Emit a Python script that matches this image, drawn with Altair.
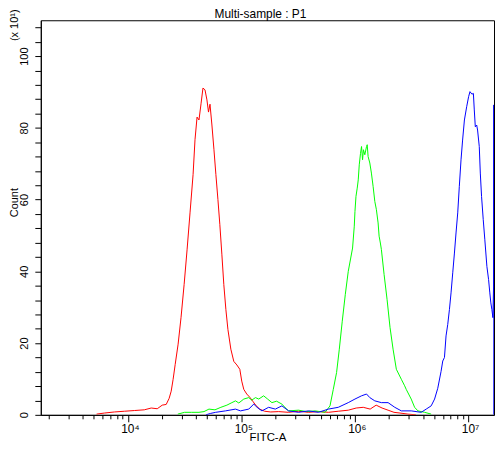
import altair as alt
import pandas as pd

# FITC-A intensity stored as log10 exponents; counts in units of 10^1
red_log = [3.724, 3.794, 3.882, 3.969, 4.057, 4.145, 4.206, 4.259, 4.303, 4.338,
           4.364, 4.382, 4.399, 4.417, 4.443, 4.469, 4.496, 4.522, 4.548, 4.575,
           4.592, 4.610, 4.627, 4.645, 4.662, 4.680, 4.697, 4.711, 4.724, 4.741,
           4.759, 4.776, 4.794, 4.811, 4.829, 4.846, 4.864, 4.882, 4.908, 4.934,
           4.961, 4.987, 5.004, 5.022, 5.048, 5.075, 5.101, 5.127, 5.162, 5.206,
           5.259, 5.329, 5.417, 5.504, 5.592, 5.680, 5.768, 5.855, 5.943, 6.013,
           6.075, 6.136, 6.189, 6.241, 6.294, 6.346, 6.399, 6.469, 6.539]
red_count = [0.2, 0.5, 0.8, 1.0, 1.2, 1.4, 1.9, 1.7, 2.7, 2.9,
             4.6, 6.6, 9.9, 14.0, 19.7, 27.2, 36.3, 46.0, 56.3, 67.0,
             76.7, 83.0, 82.2, 86.7, 91.1, 90.6, 87.8, 84.4, 86.6, 80.8,
             73.9, 67.0, 60.0, 53.0, 44.6, 36.3, 29.4, 23.8, 18.3, 14.9,
             13.9, 12.7, 9.4, 7.1, 5.8, 4.9, 3.8, 2.7, 1.6, 1.0,
             0.8, 0.9, 0.7, 1.0, 0.7, 0.9, 0.7, 1.0, 1.3, 1.9,
             2.1, 1.6, 2.7, 1.9, 1.3, 0.7, 0.5, 0.2, 0.0]

green_log = [4.440, 4.500, 4.560, 4.627, 4.671, 4.715, 4.768, 4.820, 4.873, 4.917,
             4.949, 4.978, 5.022, 5.066, 5.092, 5.125, 5.154, 5.197, 5.232, 5.270,
             5.311, 5.358, 5.390, 5.417, 5.504, 5.575, 5.651, 5.739, 5.782, 5.811,
             5.840, 5.864, 5.890, 5.917, 5.943, 5.981, 5.996, 6.002, 6.011, 6.022,
             6.031, 6.040, 6.051, 6.060, 6.069, 6.077, 6.089, 6.104, 6.110, 6.118,
             6.133, 6.147, 6.162, 6.177, 6.191, 6.206, 6.215, 6.226, 6.235, 6.259,
             6.285, 6.311, 6.338, 6.367, 6.411, 6.440, 6.454, 6.498, 6.528, 6.557,
             6.616, 6.674]
green_count = [0.2, 0.7, 0.7, 0.7, 0.9, 1.6, 1.4, 2.1, 2.7, 3.4,
               3.9, 3.3, 4.4, 4.8, 4.1, 4.8, 4.4, 5.3, 4.4, 3.4,
               3.8, 3.0, 1.9, 1.1, 1.3, 0.9, 1.1, 0.7, 2.5, 7.1,
               11.8, 18.3, 26.1, 33.6, 40.0, 46.5, 52.6, 56.7, 60.9, 63.2,
               65.5, 69.7, 72.9, 74.8, 71.1, 73.9, 72.5, 74.8, 75.3, 72.0,
               70.2, 67.4, 63.7, 59.5, 57.2, 53.5, 49.8, 47.9, 46.1, 39.1,
               32.2, 24.4, 18.3, 12.7, 9.9, 8.1, 7.1, 4.4, 2.1, 1.1,
               0.7, 0.2]

blue_log = [4.688, 4.730, 4.774, 4.861, 4.949, 4.993, 5.066, 5.110, 5.139, 5.182,
            5.241, 5.300, 5.358, 5.417, 5.504, 5.592, 5.680, 5.768, 5.855, 5.943,
            6.002, 6.060, 6.104, 6.133, 6.177, 6.235, 6.294, 6.353, 6.411, 6.498,
            6.586, 6.630, 6.674, 6.704, 6.732, 6.761, 6.776, 6.791, 6.805, 6.820,
            6.835, 6.849, 6.864, 6.879, 6.893, 6.908, 6.922, 6.937, 6.951, 6.967,
            6.987, 7.004, 7.016, 7.033, 7.046, 7.054, 7.063, 7.075, 7.083, 7.098,
            7.107, 7.118, 7.133, 7.147, 7.165, 7.180, 7.191, 7.200, 7.209, 7.218,
            7.224, 7.226, 7.226]
blue_count = [0.0, 0.4, 0.7, 1.1, 1.6, 1.1, 1.6, 3.0, 2.1, 1.1,
              2.1, 1.6, 2.5, 1.1, 0.7, 1.1, 0.7, 1.6, 2.1, 3.4,
              4.4, 5.3, 5.8, 4.8, 3.9, 3.4, 3.4, 2.1, 1.1, 1.1,
              0.7, 1.6, 2.5, 4.4, 7.4, 12.1, 15.0, 16.0, 22.0, 25.2,
              29.4, 34.0, 39.6, 45.1, 50.7, 56.3, 63.7, 71.1, 76.6, 82.2,
              85.9, 88.7, 90.1, 89.4, 89.6, 85.0, 80.3, 80.8, 79.4, 74.8,
              67.4, 60.9, 54.4, 48.8, 41.4, 37.7, 34.0, 31.2, 29.4, 27.1,
              35.9, 86.4, 0.0]

x_major = [10000, 100000, 1000000, 10000000]
x_major_labels = ["10\u2074", "10\u2075", "10\u2076", "10\u2077"]
y_ticks = list(range(0, 112, 4))
chart_title = "Multi-sample : P1"
y_multiplier = "(x 10\u00b9)"

x_lo, x_hi = 1708, 16900000
x_ticks = [m * 10 ** e for e in range(3, 8) for m in range(1, 10)
           if x_lo <= m * 10 ** e <= x_hi]

rows = []
for name, xs, ys in [("red", red_log, red_count),
                     ("green", green_log, green_count),
                     ("blue", blue_log, blue_count)]:
    for i, (lx, c) in enumerate(zip(xs, ys)):
        rows.append({"series": name, "fitc": 10 ** lx, "count": c, "idx": i})
df = pd.DataFrame(rows)

colors = {"red": "#ff0000", "green": "#00ff00", "blue": "#0000ff"}

major_test = "indexof([" + ",".join(str(v) for v in x_major) + "], datum.value) >= 0"
label_expr = " : ".join(
    f"datum.value == {v} ? '{l}'" for v, l in zip(x_major, x_major_labels)
) + " : ''"

xscale = alt.Scale(type="log", domain=[x_lo, x_hi], nice=False)
yscale = alt.Scale(domain=[0, 110], nice=False, zero=False)

x_axis = alt.Axis(
    values=x_ticks, labelExpr=label_expr, grid=False,
    tickSize={"condition": {"test": major_test, "value": 7}, "value": 4},
    labelPadding=2, labelFontSize=12, labelOffset=2, labelOverlap=False,
    labelFlush=False, title="FITC-A", titleFontSize=11.5, titleFontWeight="normal",
    titleY=26, titleX=228, titleAlign="center", titleBaseline="alphabetic",
)
y_axis = alt.Axis(
    values=y_ticks, labelExpr="datum.value % 20 == 0 ? datum.label : ''",
    grid=False, tickSize=6, labelAngle=270, labelAlign="center",
    labelBaseline="alphabetic", labelPadding=7, labelFontSize=11,
    labelOverlap=False, labelFlush=False,
    title="Count", titleFontSize=11, titleFontWeight="normal", titleAngle=270,
    titleX=-23, titleY=183, titleAlign="center", titleBaseline="alphabetic",
)

base = alt.Chart(df).mark_line(strokeWidth=1, clip=True).encode(
    x=alt.X("fitc:Q", scale=xscale, axis=x_axis),
    y=alt.Y("count:Q", scale=yscale, axis=y_axis),
    order="idx:Q",
)

layers = [
    base.transform_filter(alt.datum.series == name).mark_line(
        strokeWidth=1, color=colors[name], clip=True
    )
    for name in ["red", "green", "blue"]
]

texts = pd.DataFrame({"t": [y_multiplier]})
mult = alt.Chart(texts).mark_text(
    angle=270, align="center", baseline="alphabetic", fontSize=11, color="black"
).encode(x=alt.value(-23), y=alt.value(5), text="t:N")

title_mark = alt.Chart(pd.DataFrame({"t": [chart_title]})).mark_text(
    align="center", baseline="alphabetic", fontSize=12, color="black"
).encode(x=alt.value(221), y=alt.value(-2), text="t:N")

chart = alt.layer(*layers, mult, title_mark).properties(
    width=456, height=397,
    autosize=alt.AutoSizeParams(type="none"),
    padding={"left": 33, "top": 11, "right": 2, "bottom": 27},
).configure_view(
    stroke="black", strokeWidth=1
).configure_axis(
    domainColor="black", tickColor="black", labelColor="black", titleColor="black",
    labelFont="Liberation Sans", titleFont="Liberation Sans", domainWidth=1, tickWidth=1,
).configure_text(font="Liberation Sans")

chart.save("out.html", embed_options={"renderer": "svg", "actions": False})
